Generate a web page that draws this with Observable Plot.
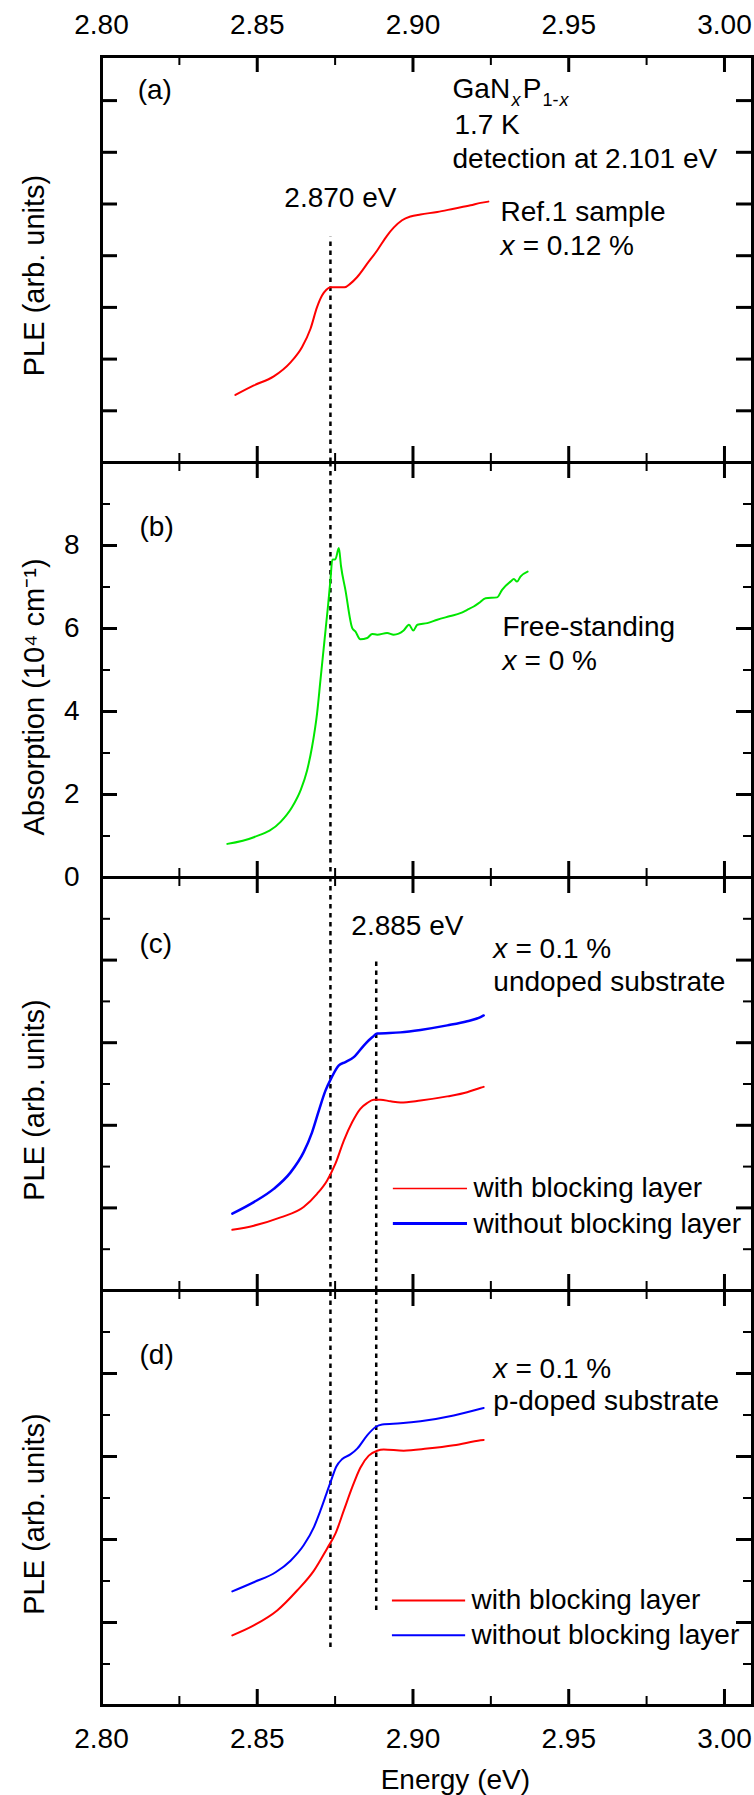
<!DOCTYPE html>
<html><head><meta charset="utf-8">
<script src="https://cdn.jsdelivr.net/npm/d3@7"></script>
<script src="https://cdn.jsdelivr.net/npm/@observablehq/plot@0.6"></script>
<style>
html,body{margin:0;padding:0;background:#fff;}
#chart{position:relative;width:754px;height:1795px;overflow:hidden;background:#fff;}
</style></head><body><div id="chart"></div>
<script>
// ---------- data ----------
const xTickLabels = [2.80, 2.85, 2.90, 2.95, 3.00];
const xMajor = [2.85, 2.90, 2.95, 3.00];
const xMinor = [2.825, 2.875, 2.925, 2.975];
const yMajor = [2, 4, 6, 8];
const yMinor = [1, 3, 5, 7, 9];
const yTicksA = [1, 2, 3, 4, 5, 6, 7];
const absTickLabels = [0, 2, 4, 6, 8];
const markerEnergy = [2.8735, 2.8882];
const markerLabels = ["2.870 eV", "2.885 eV"];

// (a) Ref.1 sample, x = 0.12 %  (arb. units)
const energyA = [2.8430, 2.8489, 2.8553, 2.8607, 2.8644, 2.8671, 2.8692, 2.8708, 2.8722, 2.8735, 2.8757, 2.8780, 2.8799, 2.8821, 2.8853, 2.8885, 2.8917, 2.8938, 2.8965, 2.8992, 2.9024, 2.9078, 2.9131, 2.9185, 2.9217, 2.9242];
const pleA = [1.306, 1.490, 1.666, 1.938, 2.235, 2.587, 3.004, 3.228, 3.340, 3.388, 3.388, 3.388, 3.460, 3.588, 3.845, 4.101, 4.389, 4.542, 4.686, 4.758, 4.798, 4.846, 4.910, 4.974, 5.022, 5.046];

// (b) free-standing absorption (10^4 cm^-1)
const energyB = [2.8404, 2.8489, 2.8575, 2.8612, 2.8639, 2.8660, 2.8676, 2.8692, 2.8703, 2.8716, 2.8727, 2.8735, 2.8741, 2.8751, 2.8762, 2.8769, 2.8783, 2.8805, 2.8815, 2.8831, 2.8853, 2.8869, 2.8885, 2.8917, 2.8938, 2.8970, 2.8987, 2.9001, 2.9014, 2.9046, 2.9078, 2.9120, 2.9152, 2.9174, 2.9195, 2.9211, 2.9233, 2.9270, 2.9286, 2.9313, 2.9324, 2.9334, 2.9345, 2.9368];
const absorption = [0.81, 0.97, 1.34, 1.70, 2.10, 2.58, 3.15, 3.95, 4.76, 5.72, 6.53, 7.17, 7.66, 7.67, 7.94, 7.50, 6.93, 6.01, 5.93, 5.74, 5.77, 5.87, 5.85, 5.89, 5.85, 5.95, 6.09, 5.95, 6.09, 6.13, 6.21, 6.30, 6.37, 6.45, 6.53, 6.61, 6.73, 6.75, 6.93, 7.13, 7.19, 7.13, 7.25, 7.37];

// (c) undoped substrate, x = 0.1 %
const energyCWith = [2.8420, 2.8489, 2.8575, 2.8649, 2.8692, 2.8724, 2.8751, 2.8778, 2.8805, 2.8831, 2.8853, 2.8874, 2.8896, 2.8928, 2.8960, 2.9024, 2.9110, 2.9174, 2.9217, 2.9227];
const pleCWith = [1.47, 1.57, 1.77, 2.02, 2.34, 2.66, 3.07, 3.63, 4.08, 4.40, 4.54, 4.62, 4.62, 4.58, 4.55, 4.60, 4.70, 4.80, 4.91, 4.93];
const energyCWithout = [2.8420, 2.8489, 2.8553, 2.8607, 2.8649, 2.8676, 2.8698, 2.8719, 2.8737, 2.8762, 2.8783, 2.8810, 2.8842, 2.8869, 2.8885, 2.8960, 2.9024, 2.9110, 2.9174, 2.9217, 2.9227];
const pleCWithout = [1.86, 2.14, 2.46, 2.86, 3.35, 3.83, 4.36, 4.84, 5.13, 5.45, 5.53, 5.65, 5.93, 6.13, 6.22, 6.25, 6.31, 6.42, 6.52, 6.62, 6.66];

// (d) p-doped substrate, x = 0.1 %
const energyDWith = [2.8420, 2.8489, 2.8564, 2.8628, 2.8682, 2.8724, 2.8751, 2.8778, 2.8805, 2.8831, 2.8858, 2.8885, 2.8906, 2.8970, 2.9046, 2.9131, 2.9217, 2.9227];
const pleDWith = [1.69, 1.93, 2.29, 2.77, 3.25, 3.78, 4.14, 4.70, 5.26, 5.73, 6.02, 6.14, 6.17, 6.14, 6.19, 6.27, 6.39, 6.40];
const energyDWithout = [2.8420, 2.8489, 2.8559, 2.8607, 2.8649, 2.8682, 2.8703, 2.8722, 2.8737, 2.8754, 2.8773, 2.8799, 2.8821, 2.8853, 2.8880, 2.8901, 2.8960, 2.9024, 2.9131, 2.9217, 2.9227];
const pleDWithout = [2.75, 2.97, 3.21, 3.49, 3.86, 4.30, 4.70, 5.10, 5.42, 5.76, 5.94, 6.05, 6.19, 6.51, 6.71, 6.77, 6.80, 6.85, 6.99, 7.15, 7.17];

const legendLabels = ["with blocking layer", "without blocking layer"];

// ---------- helpers ----------
const FONT = '"Liberation Sans", Arial, Helvetica, sans-serif';
const FS = 28;
const RED = "#ff0000", GREEN = "#00e600", BLUE = "#0000ff";
const W = 754, ML = 101, MR = 2;
const xDomain = [2.80, 3.009];

const pts = (xs, ys) => xs.map((x, i) => ({x, y: ys[i]}));
const curve = (xs, ys, stroke, sw = 2) =>
  Plot.line(pts(xs, ys), {x: "x", y: "y", stroke, strokeWidth: sw, curve: "monotone-x"});
const txt = (items, opts = {}) =>
  Plot.text(items, {x: "x", y: "y", text: "t", fontSize: FS, textAnchor: "start", lineAnchor: "bottom", fill: "black", ...opts});
const DASH = "4.5,4.5";
const dotted = (items) =>
  Plot.ruleX(items, {x: "x", y1: "y1", y2: "y2", stroke: "black", strokeWidth: 2.5, strokeDasharray: DASH});
const dottedFull = (xs) =>
  Plot.ruleX(xs, {x: d => d, stroke: "black", strokeWidth: 2.5, strokeDasharray: DASH});
const yTitle = (t, dy) =>
  Plot.text([t], {text: d => d, frameAnchor: "left", rotate: -90, dx: -67, dy, fontSize: 29, textAnchor: "middle"});

function panel({top, height, marginTop, marginBottom, yMax, major = yMajor, minor = yMinor, marks}) {
  const fh = height - marginTop - marginBottom;
  const fw = W - ML - MR;
  const frameMarks = [
    Plot.ruleX(xMajor, {x: d => d, insetTop: fh - 16, stroke: "black", strokeWidth: 3}),
    Plot.ruleX(xMinor, {x: d => d, insetTop: fh - 9, stroke: "black", strokeWidth: 2}),
    Plot.ruleX(xMajor, {x: d => d, insetBottom: fh - 16, stroke: "black", strokeWidth: 3}),
    Plot.ruleX(xMinor, {x: d => d, insetBottom: fh - 9, stroke: "black", strokeWidth: 2}),
    Plot.ruleY(major.filter(v => v < yMax), {y: d => d, insetRight: fw - 16, stroke: "black", strokeWidth: 3}),
    Plot.ruleY(minor.filter(v => v < yMax), {y: d => d, insetRight: fw - 9, stroke: "black", strokeWidth: 2}),
    Plot.ruleY(major.filter(v => v < yMax), {y: d => d, insetLeft: fw - 16, stroke: "black", strokeWidth: 3}),
    Plot.ruleY(minor.filter(v => v < yMax), {y: d => d, insetLeft: fw - 9, stroke: "black", strokeWidth: 2}),
    Plot.frame({stroke: "black", strokeWidth: 3})
  ];
  const svg = Plot.plot({
    width: W, height, marginLeft: ML, marginRight: MR, marginTop, marginBottom,
    x: {domain: xDomain, axis: null},
    y: {domain: [0, yMax], axis: null},
    style: {position: "absolute", left: "0px", top: top + "px", background: "transparent", overflow: "visible", fontFamily: FONT, color: "black"},
    marks: [...marks, ...frameMarks]
  });
  document.getElementById("chart").appendChild(svg);
}

// ---------- panel (a) ----------
panel({
  top: 0, height: 466, marginTop: 56, marginBottom: 4, yMax: 7.853, major: yTicksA, minor: [],
  marks: [
    dotted([{x: markerEnergy[0], y1: 0, y2: 4.357}]),
    curve(energyA, pleA, RED, 2),
    Plot.text(xTickLabels, {x: d => d, text: d => d.toFixed(2), frameAnchor: "top", dy: -23, lineAnchor: "bottom", fontSize: FS}),
    txt([{x: 2.8116, y: 7.025, t: "(a)"}]),
    txt([{x: 2.9127, y: 7.041, t: "GaN"}, {x: 2.9352, y: 7.041, t: "P"}]),
    txt([{x: 2.9316, y: 6.905, t: "x"}, {x: 2.9470, y: 6.905, t: "x"}], {fontSize: 18, fontStyle: "italic"}),
    txt([{x: 2.9416, y: 6.905, t: "1-"}], {fontSize: 18}),
    txt([{x: 2.9133, y: 6.360, t: "1.7 K"}, {x: 2.9127, y: 5.687, t: "detection at 2.101 eV"}]),
    txt([{x: 2.8767, y: 4.934, t: markerLabels[0]}], {textAnchor: "middle"}),
    txt([{x: 2.9281, y: 4.678, t: "Ref.1 sample"}, {x: 2.9352, y: 4.005, t: "= 0.12 %"}]),
    txt([{x: 2.9281, y: 4.005, t: "x"}], {fontStyle: "italic"}),
    yTitle("PLE (arb. units)", 16)
  ]
});

// ---------- panel (b) ----------
panel({
  top: 458, height: 423, marginTop: 4, marginBottom: 4, yMax: 10,
  marks: [
    dottedFull([markerEnergy[0]]),
    curve(energyB, absorption, GREEN, 2),
    Plot.text(absTickLabels, {y: d => d, text: d => String(d), frameAnchor: "left", textAnchor: "end", dx: -22, fontSize: FS}),
    txt([{x: 2.8122, y: 8.24, t: "(b)"}]),
    txt([{x: 2.9287, y: 5.81, t: "Free-standing"}, {x: 2.9358, y: 4.99, t: "= 0 %"}]),
    txt([{x: 2.9287, y: 4.99, t: "x"}], {fontStyle: "italic"}),
    yTitle("Absorption (10\u2074 cm\u207B\u00B9)", 27)
  ]
});

// ---------- panel (c) ----------
panel({
  top: 873, height: 421, marginTop: 4, marginBottom: 4, yMax: 10,
  marks: [
    dottedFull([markerEnergy[0]]),
    dotted([{x: markerEnergy[1], y1: 0, y2: 7.99}]),
    curve(energyCWith, pleCWith, RED, 2),
    curve(energyCWithout, pleCWithout, BLUE, 2.5),
    txt([{x: 2.8122, y: 8.18, t: "(c)"}]),
    txt([{x: 2.8982, y: 8.60, t: markerLabels[1]}], {textAnchor: "middle"}),
    txt([{x: 2.9258, y: 8.04, t: "x"}], {fontStyle: "italic"}),
    txt([{x: 2.9329, y: 8.04, t: "= 0.1 %"}, {x: 2.9258, y: 7.26, t: "undoped substrate"}]),
    Plot.ruleY([{y: 2.47, x1: 2.8937, x2: 2.9175}], {y: "y", x1: "x1", x2: "x2", stroke: RED, strokeWidth: 1.5}),
    Plot.ruleY([{y: 1.62, x1: 2.8937, x2: 2.9175}], {y: "y", x1: "x1", x2: "x2", stroke: BLUE, strokeWidth: 3}),
    txt([{x: 2.9194, y: 2.47, t: legendLabels[0]}, {x: 2.9194, y: 1.62, t: legendLabels[1]}], {lineAnchor: "middle"}),
    yTitle("PLE (arb. units)", 16)
  ]
});

// ---------- panel (d) ----------
panel({
  top: 1286, height: 509, marginTop: 4, marginBottom: 90, yMax: 10,
  marks: [
    dotted([{x: markerEnergy[0], y1: 1.40, y2: 10}]),
    dotted([{x: markerEnergy[1], y1: 2.29, y2: 10}]),
    curve(energyDWith, pleDWith, RED, 2),
    curve(energyDWithout, pleDWithout, BLUE, 2),
    txt([{x: 2.8122, y: 8.22, t: "(d)"}]),
    txt([{x: 2.9258, y: 7.90, t: "x"}], {fontStyle: "italic"}),
    txt([{x: 2.9329, y: 7.90, t: "= 0.1 %"}, {x: 2.9258, y: 7.11, t: "p-doped substrate"}]),
    Plot.ruleY([{y: 2.53, x1: 2.8934, x2: 2.9169}], {y: "y", x1: "x1", x2: "x2", stroke: RED, strokeWidth: 2}),
    Plot.ruleY([{y: 1.69, x1: 2.8934, x2: 2.9169}], {y: "y", x1: "x1", x2: "x2", stroke: BLUE, strokeWidth: 2}),
    txt([{x: 2.9188, y: 2.53, t: legendLabels[0]}, {x: 2.9188, y: 1.69, t: legendLabels[1]}], {lineAnchor: "middle"}),
    Plot.text(xTickLabels, {x: d => d, text: d => d.toFixed(2), frameAnchor: "bottom", dy: 42, lineAnchor: "bottom", fontSize: FS}),
    Plot.text(["Energy (eV)"], {x: () => 2.9136, text: d => d, frameAnchor: "bottom", dy: 83, lineAnchor: "bottom", fontSize: FS}),
    yTitle("PLE (arb. units)", 16)
  ]
});
</script></body></html>
